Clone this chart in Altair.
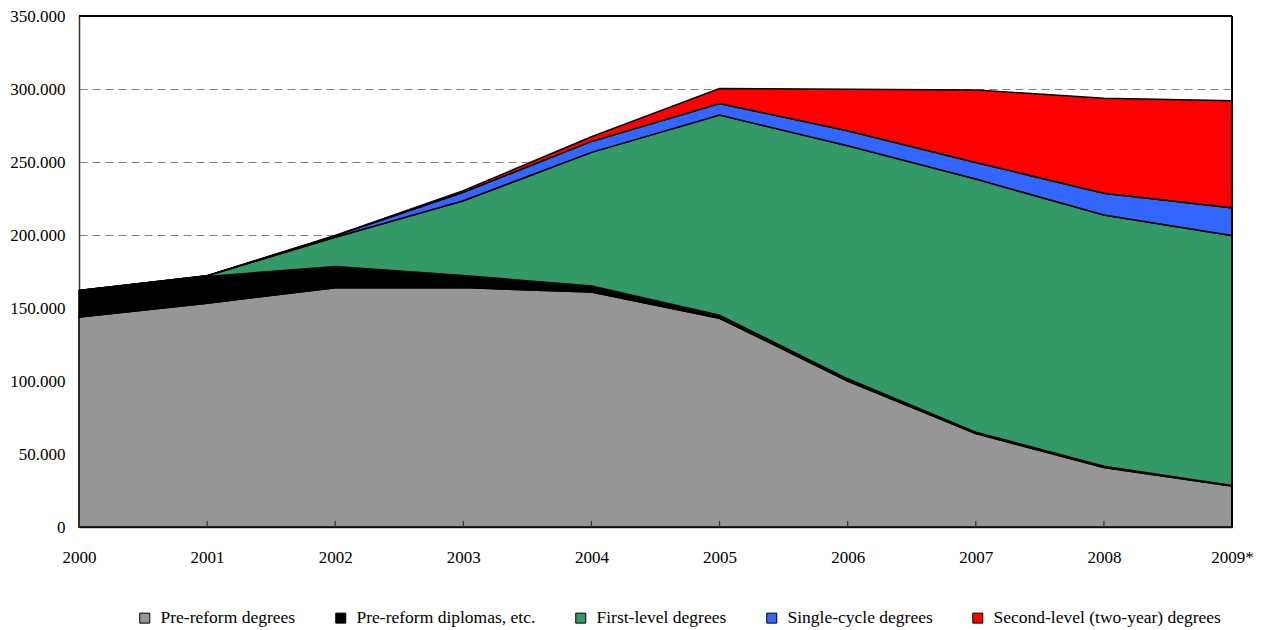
import altair as alt
import pandas as pd

years = ["2000", "2001", "2002", "2003", "2004", "2005", "2006", "2007", "2008", "2009*"]
series = ["Pre-reform degrees", "Pre-reform diplomas, etc.", "First-level degrees",
          "Single-cycle degrees", "Second-level (two-year) degrees"]
colors = ["#969696", "#000000", "#339966", "#3366FF", "#FF0000"]

pre_reform_degrees = [143800, 153300, 163900, 164000, 160900, 143000, 100000, 64000, 40800, 28000]
pre_reform_diplomas = [18200, 18300, 14500, 8300, 4100, 2000, 1500, 1000, 800, 500]
first_level = [0, 500, 20100, 51200, 91600, 137100, 159600, 173300, 172100, 171100]
single_cycle = [0, 0, 1000, 5700, 7500, 7900, 10300, 11400, 14900, 19000]
second_level = [0, 0, 200, 1200, 3200, 10300, 28500, 49700, 65000, 73300]

values = [pre_reform_degrees, pre_reform_diplomas, first_level, single_cycle, second_level]

rows = []
for si, (name, vals) in enumerate(zip(series, values)):
    for yi, (yr, v) in enumerate(zip(years, vals)):
        rows.append({"year": yr, "series": name, "value": v, "order": si})
df = pd.DataFrame(rows)
ticks_df = pd.DataFrame({"year": years})

FONT = "Liberation Serif"
W, H = 1153, 511

x_enc = alt.X("year:N", sort=years, scale=alt.Scale(type="point", padding=0),
              axis=alt.Axis(title=None, labelAngle=0, ticks=False, labelPadding=22,
                            labelFontSize=17, labelFont=FONT, labelColor="#000000",
                            domainColor="#333333", domainWidth=1.5, grid=False))

areas = alt.Chart(df).mark_area(stroke="#000000", strokeWidth=1.5, opacity=1).encode(
    x=x_enc,
    y=alt.Y("value:Q", stack="zero",
            scale=alt.Scale(domain=[0, 350000], nice=False),
            axis=alt.Axis(title=None, values=[0, 50000, 100000, 150000, 200000, 250000, 300000, 350000],
                          labelExpr="replace(format(datum.value, ','), regexp(',', 'g'), '.')",
                          ticks=False, labelPadding=14, labelFontSize=17, labelFont=FONT,
                          labelColor="#000000", domainColor="#333333", domainWidth=1.5,
                          grid=True, gridColor="#808080", gridDash=[8, 5], gridWidth=1.2)),
    color=alt.Color("series:N", sort=series,
                    scale=alt.Scale(domain=series, range=colors),
                    legend=alt.Legend(title=None, orient="none", direction="horizontal",
                                      columns=5, legendX=57, legendY=593, padding=0,
                                      symbolType="square", symbolSize=100,
                                      symbolStrokeColor="#000000", symbolStrokeWidth=1,
                                      symbolOpacity=1, labelFont=FONT, labelFontSize=17.5,
                                      labelColor="#000000", columnPadding=36, labelOffset=7,
                                      labelLimit=400)),
    order=alt.Order("order:Q", sort="ascending"),
)

tick_rules = alt.Chart(ticks_df).mark_rule(color="#333333", strokeWidth=1.2).encode(
    x=alt.X("year:N", sort=years, scale=alt.Scale(type="point", padding=0)),
    y=alt.value(H),
    y2=alt.value(H - 6),
)

top_border = alt.Chart(ticks_df).mark_rule(color="#000000", strokeWidth=1.5).encode(
    x=alt.value(0), x2=alt.value(W), y=alt.value(0)
)
right_border = alt.Chart(ticks_df).mark_rule(color="#000000", strokeWidth=1.5).encode(
    x=alt.value(W), y=alt.value(0), y2=alt.value(H)
)

chart = alt.layer(areas, tick_rules, top_border, right_border).properties(
    width=W, height=H,
    autosize=alt.AutoSizeParams(type="none"),
    padding={"left": 71, "top": 8, "right": 23, "bottom": 100},
).configure(background="#ffffff", font=FONT).configure_view(stroke=None).configure_axis(
    labelFont=FONT).configure_legend(labelFont=FONT)

chart.save("out.html", embed_options={"renderer": "svg", "actions": False})
